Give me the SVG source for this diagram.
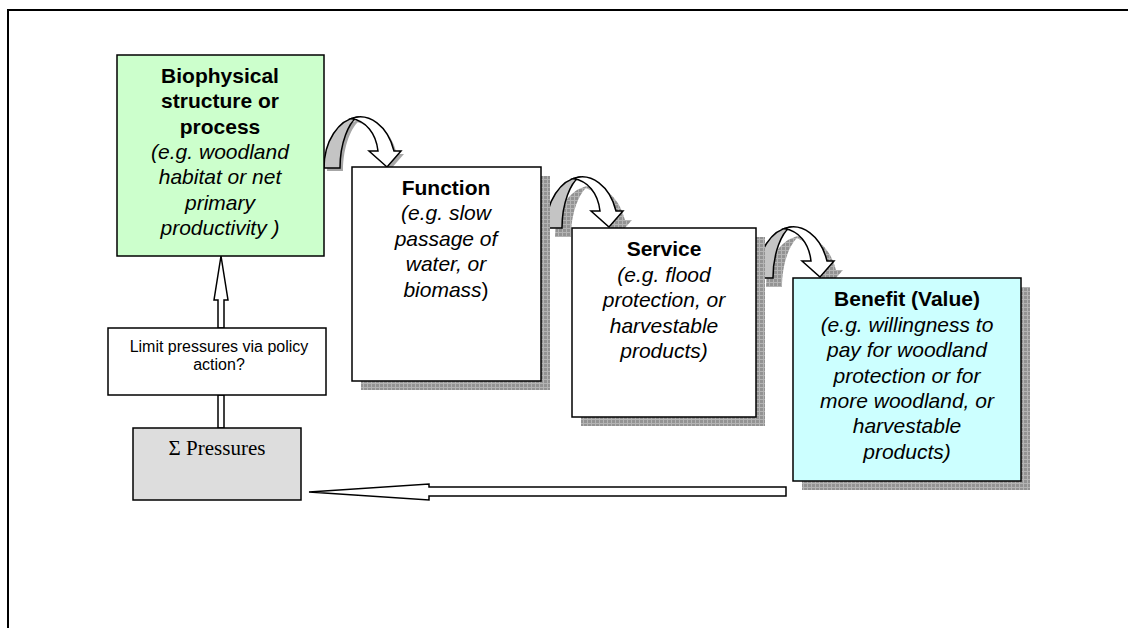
<svg xmlns="http://www.w3.org/2000/svg" xmlns:xlink="http://www.w3.org/1999/xlink" width="1128" height="628" viewBox="0 0 1128 628">
  <style>
    .box { stroke: #000; stroke-width: 1.5; }
    .ttl { font-family: "Liberation Sans", Arial, sans-serif; font-size: 21px; font-weight: bold; text-anchor: middle; fill: #000; }
    .ex { font-family: "Liberation Sans", Arial, sans-serif; font-size: 21px; font-style: italic; text-anchor: middle; fill: #000; }
    .note { font-family: "Liberation Sans", Arial, sans-serif; font-size: 16px; text-anchor: middle; fill: #000; }
    .serif { font-family: "Liberation Serif", "Times New Roman", serif; font-size: 21px; text-anchor: middle; fill: #000; }
    .block { fill: #fff; stroke: #000; stroke-width: 1.5; stroke-linejoin: miter; }
    .back { fill: #c4c4c4; stroke: #000; stroke-width: 1.5; }
    .front { fill: #fff; stroke: #000; stroke-width: 1.5; }
    .shade { fill: url(#grid); stroke: none; }
  </style>
  <defs>
    <!-- hatched drop-shadow fill -->
    <pattern id="grid" width="4" height="4" patternUnits="userSpaceOnUse">
      <rect width="4" height="4" fill="#939393"/>
      <rect x="3" width="1" height="4" fill="#b4b4b4"/>
      <rect y="3" width="4" height="1" fill="#b4b4b4"/>
    </pattern>
    <!-- curved down arrow, origin at bottom-left foot -->
    <path id="ca-back" d="M0,0 A36,51 0 0 1 33,-50.8 C25,-45 16,-26 16,0 Z"/>
    <path id="ca-front" d="M27,-49.4 A36,51 0 0 1 70,-17 L77,-17 L63,-1 L45,-17 L54,-17 C52,-35 42,-47 27,-49.4 Z"/>
  </defs>

  <!-- page frame -->
  <path d="M8,628 V10 H1128" fill="none" stroke="#000" stroke-width="2"/>

  <!-- connectors -->
  <g id="connectors">
    <g id="curve-1" transform="translate(324,168)">
      <g transform="translate(3,3)" fill="#a6a6a6">
        <use xlink:href="#ca-back"/>
        <use xlink:href="#ca-front"/>
      </g>
      <use xlink:href="#ca-back" class="back"/>
      <use xlink:href="#ca-front" class="front"/>
    </g>
    <g id="curve-2" transform="translate(546,228)">
      <g transform="translate(9,9)" class="shade">
        <use xlink:href="#ca-back"/>
        <use xlink:href="#ca-front"/>
      </g>
      <use xlink:href="#ca-back" class="back"/>
      <use xlink:href="#ca-front" class="front"/>
    </g>
    <g id="curve-3" transform="translate(757,278)">
      <g transform="translate(9,9)" class="shade">
        <use xlink:href="#ca-back"/>
        <use xlink:href="#ca-front"/>
      </g>
      <use xlink:href="#ca-back" class="back"/>
      <use xlink:href="#ca-front" class="front"/>
    </g>
    <!-- pressures up to policy box -->
    <rect class="block" x="218" y="395" width="6" height="33"/>
    <!-- policy box up to biophysical box -->
    <path class="block" d="M218,328 V300 H214 L221,256 L228,300 H224 V328 Z"/>
    <!-- feedback from benefit back to pressures -->
    <path class="block" d="M786,487 H429 V484 L309,492 L429,500 V496 H786 Z"/>
  </g>

  <!-- nodes -->
  <g id="biophysical">
    <rect class="box" x="117" y="55" width="207" height="201" fill="#ccffcc"/>
    <text class="ttl" x="220" y="83">Biophysical</text>
    <text class="ttl" x="220" y="108">structure or</text>
    <text class="ttl" x="220" y="134">process</text>
    <text class="ex" x="220" y="159">(e.g. woodland</text>
    <text class="ex" x="220" y="184">habitat or net</text>
    <text class="ex" x="220" y="210">primary</text>
    <text class="ex" x="220" y="235">productivity )</text>
  </g>

  <g id="function">
    <rect class="shade" x="361" y="176" width="189" height="214"/>
    <rect class="box" x="352" y="167" width="189" height="214" fill="#fff"/>
    <text class="ttl" x="446" y="195">Function</text>
    <text class="ex" x="446" y="220">(e.g. slow</text>
    <text class="ex" x="446" y="246">passage of</text>
    <text class="ex" x="446" y="271">water, or</text>
    <text class="ex" x="446" y="297">biomass<tspan font-style="normal">)</tspan></text>
  </g>

  <g id="service">
    <rect class="shade" x="581" y="237" width="184" height="189"/>
    <rect class="box" x="572" y="228" width="184" height="189" fill="#fff"/>
    <text class="ttl" x="664" y="256">Service</text>
    <text class="ex" x="664" y="282">(e.g. flood</text>
    <text class="ex" x="664" y="307">protection, or</text>
    <text class="ex" x="664" y="333">harvestable</text>
    <text class="ex" x="664" y="358">products)</text>
  </g>

  <g id="benefit">
    <rect class="shade" x="802" y="287" width="228" height="203"/>
    <rect class="box" x="793" y="278" width="228" height="203" fill="#ccffff"/>
    <text class="ttl" x="907" y="306">Benefit (Value)</text>
    <text class="ex" x="907" y="332">(e.g. willingness to</text>
    <text class="ex" x="907" y="357">pay for woodland</text>
    <text class="ex" x="907" y="383">protection or for</text>
    <text class="ex" x="907" y="408">more woodland, or</text>
    <text class="ex" x="907" y="433">harvestable</text>
    <text class="ex" x="907" y="459">products)</text>
  </g>

  <g id="policy">
    <rect class="box" x="108" y="328" width="218" height="67" fill="#fff"/>
    <text class="note" x="219" y="352">Limit pressures via policy</text>
    <text class="note" x="219" y="370">action?</text>
  </g>

  <g id="pressures">
    <rect class="box" x="133" y="428" width="168" height="72" fill="#dddddd"/>
    <text class="serif" x="217" y="455">Σ Pressures</text>
  </g>
</svg>
